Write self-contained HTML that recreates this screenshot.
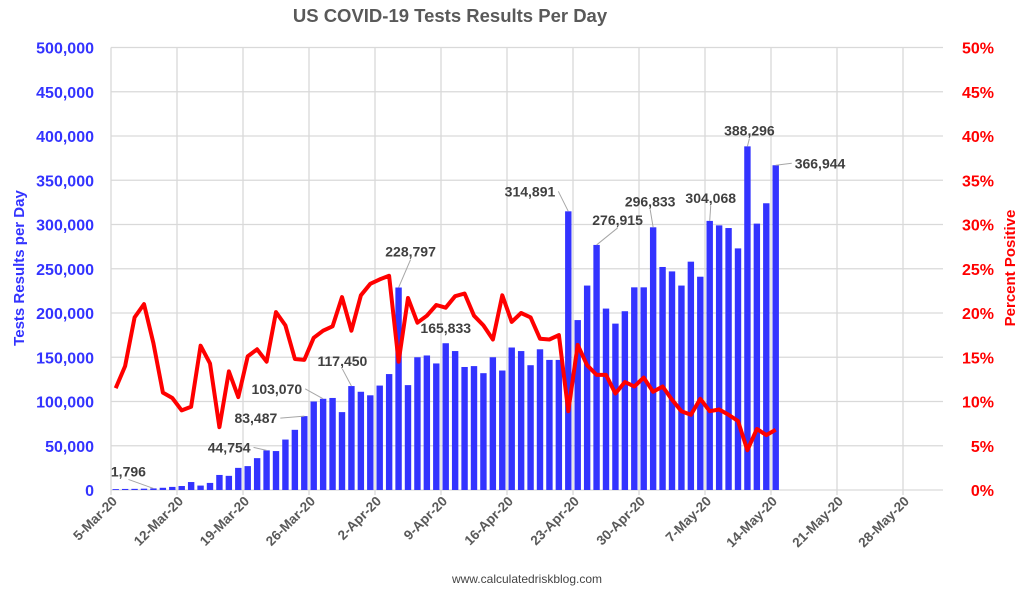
<!DOCTYPE html>
<html><head><meta charset="utf-8"><style>
body{margin:0;background:#fff;width:1026px;height:600px;overflow:hidden}
svg text{font-family:"Liberation Sans",sans-serif;font-weight:bold}
</style></head><body>
<svg id="chart" width="1026" height="600" xmlns="http://www.w3.org/2000/svg">
<text x="450" y="22" text-anchor="middle" font-size="18.5" fill="#595959">US COVID-19 Tests Results Per Day</text>
<text transform="translate(24,268) rotate(-90)" text-anchor="middle" font-size="15" fill="#3333ff">Tests Results per Day</text>
<text transform="translate(1015,268) rotate(-90)" text-anchor="middle" font-size="15" fill="#ff0000">Percent Positive</text>
<text x="527" y="583" text-anchor="middle" font-size="12" style="font-weight:normal" fill="#444">www.calculatedriskblog.com</text>
<g id="grid"></g><g id="bars"></g><g id="line"></g><g id="labels"></g><g id="axes"></g>
</svg>
<script>
const tests=[1000,1200,1300,1500,1796,2500,3500,4500,9000,5000,8000,17000,16000,25000,27000,36000,44754,44000,57000,68000,83487,100000,103070,104000,88000,117450,111000,107000,118000,131000,228797,118500,150000,152000,143000,165833,157000,139000,140000,132000,150000,135000,161000,157000,141000,159000,147000,147000,314891,192000,231000,276915,205000,188000,202000,229000,229000,296833,252000,247000,231000,258000,241000,304068,299000,296000,273000,388296,301000,324000,366944];
const pctPos=[11.5,14,19.5,21,16.6,11,10.4,9,9.4,16.3,14.3,7.1,13.4,10.5,15.1,15.9,14.5,20.1,18.6,14.8,14.7,17.2,18,18.5,21.8,18,22,23.3,23.8,24.2,14.5,21.7,18.9,19.7,20.9,20.6,21.9,22.2,19.7,18.6,17,22,19,20,19.5,17.1,17,17.5,8.9,16.4,14.1,13,13,10.9,12.2,11.7,12.7,11.1,11.7,10.2,8.9,8.5,10.3,8.9,9.1,8.5,7.8,4.5,6.9,6.2,6.8];
const xTickLabels=["5-Mar-20","12-Mar-20","19-Mar-20","26-Mar-20","2-Apr-20","9-Apr-20","16-Apr-20","23-Apr-20","30-Apr-20","7-May-20","14-May-20","21-May-20","28-May-20"];
const yTicks=[0,50000,100000,150000,200000,250000,300000,350000,400000,450000,500000];
const y2Ticks=[0,5,10,15,20,25,30,35,40,45,50];
const labeledDays=[4,16,20,22,25,30,35,48,51,57,63,67,70];
const L=111,R=943,T=47.5,B=490,dayW=66/7;
// label placement relative to bar top: [dx, dy, anchor, leader]
const place=[[-25,-12,'middle',1],[-16,2,'end',1],[-27,7,'end',1],[-21,-5,'end',1],[-9,-20,'middle',1],[12,-31,'middle',1],[0,-10,'middle',0],[-13,-15,'end',1],[21,-20,'middle',1],[-3,-21,'middle',1],[1,-18,'middle',1],[2,-11,'middle',1],[19,3,'start',1]];
const xs=d=>L+d*dayW, y1=v=>B-(v/500000)*(B-T), y2=p=>B-(p/50)*(B-T);
const NS="http://www.w3.org/2000/svg";
function mk(tag,attrs,parent,txt){const e=document.createElementNS(NS,tag);for(const k in attrs)e.setAttribute(k,attrs[k]);if(txt!==undefined)e.textContent=txt;document.getElementById(parent).appendChild(e);return e;}
yTicks.forEach(v=>{
 const g=mk('line',{x1:L,x2:R,y1:y1(v),y2:y1(v),stroke:'#d9d9d9','stroke-width':1.3},'grid');
 
 
 const t=mk('text',{x:94,y:y1(v)+6,'text-anchor':'end','font-size':16,fill:'#3333ff'},'axes',v.toLocaleString('en-US'));
 
 
});
y2Ticks.forEach(p=>{
 const t=mk('text',{x:994,y:y2(p)+6,'text-anchor':'end','font-size':16,fill:'#ff0000'},'axes',p+'%');
 
 
});
xTickLabels.forEach((s,i)=>{
 const x=xs(i*7);
 const g=mk('line',{x1:x,x2:x,y1:T,y2:B+5,stroke:'#d9d9d9','stroke-width':1.3},'grid');
 
 
 const t=mk('text',{transform:`translate(${x+7},${B+12}) rotate(-45)`,'text-anchor':'end','font-size':13.5,fill:'#595959'},'axes',s);
 
 
});
tests.forEach((v,i)=>{
 const cx=xs(i+0.5);
 const b=mk('rect',{x:cx-3.2,y:y1(v),width:6.4,height:B-y1(v),fill:'#3333ff'},'bars');
 
 
});
const pts=pctPos.map((p,i)=>xs(i+0.5).toFixed(1)+','+y2(p).toFixed(1)).join(' ');
const pl=mk('polyline',{points:pts,fill:'none',stroke:'#ff0000','stroke-width':4,'stroke-linejoin':'round'},'line');


labeledDays.forEach((i,k)=>{
 const [dx,dy,anchor,lead]=place[k];
 const bx=xs(i+0.5),by=y1(tests[i]);
 const tx=bx+dx,ty=by+dy;
 if(lead){
  let ex=tx,ey=ty+3;
  if(anchor==='end'){ex=tx+3;ey=ty-5;}
  if(anchor==='start'){ex=tx-3;ey=ty-5;}
  const ln=mk('line',{x1:bx,y1:by,x2:ex,y2:ey,stroke:'#a6a6a6','stroke-width':1},'labels');
  
  
 }
 const t=mk('text',{x:tx,y:ty,'text-anchor':anchor,'font-size':14,fill:'#404040'},'labels',tests[i].toLocaleString('en-US'));
 
 
});
</script>
</body></html>
